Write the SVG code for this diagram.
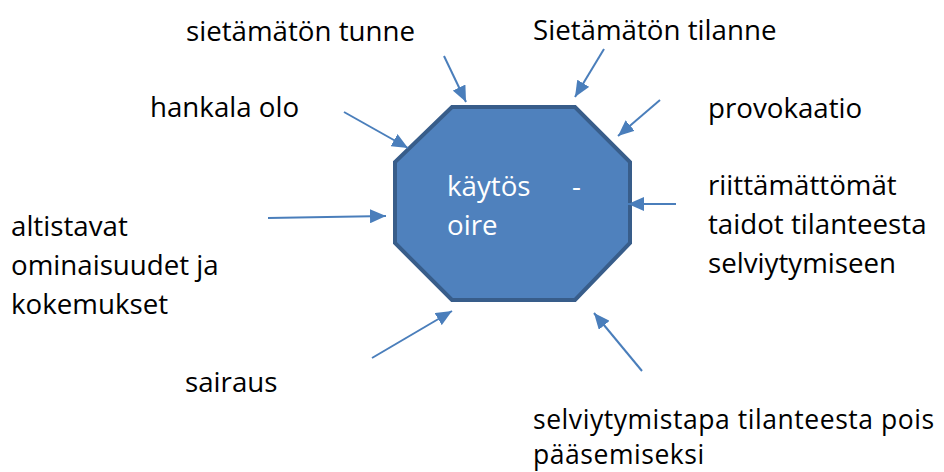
<svg xmlns="http://www.w3.org/2000/svg" width="944" height="472" viewBox="0 0 944 472">
<style>
.lbl{font-family:"Open Sans","Noto Sans","Liberation Sans",sans-serif;font-size:27.7px;fill:#000}
.sm{font-size:26.5px;letter-spacing:0.55px}
.in{font-family:"Open Sans","Noto Sans","Liberation Sans",sans-serif;font-size:27.7px;fill:#fff}
.arr{stroke:#4A7EBB;stroke-width:2;fill:none;marker-end:url(#ah)}
.oct{fill:#4F81BD;stroke:#385D8A;stroke-width:4;stroke-linejoin:miter}
</style>
<defs>
<marker id="ah" markerUnits="userSpaceOnUse" markerWidth="16" markerHeight="14" refX="16" refY="7" orient="auto">
<path d="M0,0 L16,7 L0,14 z" fill="#4A7EBB"/>
</marker>
</defs>
<rect width="944" height="472" fill="#fff"/>
<g id="center">
<polygon class="oct" points="452,107 575,107 630,162 630,243 575,300 452,300 395,243 395,162"/>
<text class="in" x="447" y="196">käytös</text>
<text class="in" x="572" y="196">-</text>
<text class="in" x="447" y="235">oire</text>
</g>
<g id="connectors">
<line class="arr" x1="444" y1="56" x2="466" y2="102"/>
<line class="arr" x1="604" y1="49" x2="575" y2="97"/>
<line class="arr" x1="660" y1="100" x2="618" y2="136"/>
<line class="arr" x1="344" y1="112" x2="408" y2="148"/>
<line class="arr" x1="268" y1="218" x2="386" y2="216"/>
<line class="arr" x1="676" y1="204" x2="628" y2="204"/>
<line class="arr" x1="372" y1="358" x2="452" y2="311"/>
<line class="arr" x1="642" y1="371" x2="594" y2="313"/>
</g>
<g id="n-sietamaton-tunne"><text class="lbl" x="186" y="41">sietämätön tunne</text></g>
<g id="n-sietamaton-tilanne"><text class="lbl" x="533" y="40">Sietämätön tilanne</text></g>
<g id="n-hankala-olo"><text class="lbl" x="150" y="117">hankala olo</text></g>
<g id="n-provokaatio"><text class="lbl" x="708" y="118">provokaatio</text></g>
<g id="n-altistavat">
<text class="lbl" x="11" y="236">altistavat</text>
<text class="lbl" x="11" y="275">ominaisuudet ja</text>
<text class="lbl" x="11" y="314">kokemukset</text>
</g>
<g id="n-riittamattomat">
<text class="lbl" x="708" y="195">riittämättömät</text>
<text class="lbl" x="708" y="234">taidot tilanteesta</text>
<text class="lbl" x="708" y="273">selviytymiseen</text>
</g>
<g id="n-sairaus"><text class="lbl" x="185" y="392">sairaus</text></g>
<g id="n-selviytymistapa">
<text class="lbl sm" x="533" y="429">selviytymistapa tilanteesta pois</text>
<text class="lbl sm" x="533" y="464">pääsemiseksi</text>
</g>
</svg>
